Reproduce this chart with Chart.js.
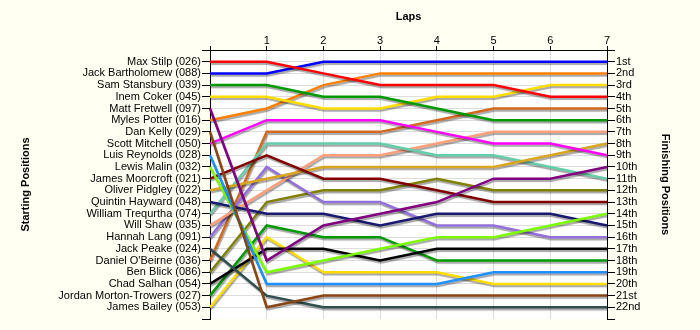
<!DOCTYPE html>
<html>
<head>
<meta charset="utf-8">
<title>Race Positions by Lap</title>
<script src="https://cdn.jsdelivr.net/npm/chart.js@4/dist/chart.umd.min.js"></script>
<style>
  html, body { margin: 0; padding: 0; background: #fffff2; }
  #wrap { width: 700px; height: 330px; }
</style>
</head>
<body>
<div id="wrap"><canvas id="raceChart" width="700" height="330"></canvas></div>
<script>
const laps = [0, 1, 2, 3, 4, 5, 6, 7];

// drivers in grid order (starting position 1..22)
const drivers = [
	"Max Stilp (026)", "Jack Bartholomew (088)", "Sam Stansbury (039)", "Inem Coker (045)",
	"Matt Fretwell (097)", "Myles Potter (016)", "Dan Kelly (029)", "Scott Mitchell (050)",
	"Luis Reynolds (028)", "Lewis Malin (032)", "James Moorcroft (021)", "Oliver Pidgley (022)",
	"Quintin Hayward (048)", "William Trequrtha (074)", "Will Shaw (035)", "Hannah Lang (091)",
	"Jack Peake (024)", "Daniel O'Beirne (036)", "Ben Blick (086)", "Chad Salhan (054)",
	"Jordan Morton-Trowers (027)", "James Bailey (053)"
];

const finishLabels = [
	"1st", "2nd", "3rd", "4th", "5th", "6th", "7th", "8th", "9th", "10th", "11th",
	"12th", "13th", "14th", "15th", "16th", "17th", "18th", "19th", "20th", "21st", "22nd"
];

// position after each lap (lap 0 = grid)
const maxStilp        = [1, 1, 2, 3, 3, 3, 4, 4];
const jackBartholomew = [2, 2, 1, 1, 1, 1, 1, 1];
const samStansbury    = [3, 3, 4, 4, 5, 6, 6, 6];
const inemCoker       = [4, 4, 5, 5, 4, 4, 3, 3];
const mattFretwell    = [5, 18, 15, 14, 13, 11, 11, 10];
const mylesPotter     = [6, 5, 3, 2, 2, 2, 2, 2];
const danKelly        = [7, 22, 21, 21, 21, 21, 21, 21];
const scottMitchell   = [8, 6, 6, 6, 7, 8, 8, 9];
const luisReynolds    = [9, 20, 20, 20, 20, 19, 19, 19];
const lewisMalin      = [10, 19, 18, 17, 16, 16, 15, 14];
const jamesMoorcroft  = [11, 9, 11, 11, 12, 13, 13, 13];
const oliverPidgley   = [12, 11, 10, 10, 10, 10, 9, 8];
const quintinHayward  = [13, 14, 14, 15, 14, 14, 14, 15];
const williamTrequrtha = [14, 8, 8, 8, 9, 9, 10, 11];
const willShaw        = [15, 12, 9, 9, 8, 7, 7, 7];
const hannahLang      = [16, 10, 13, 13, 15, 15, 16, 16];
const jackPeake       = [17, 21, 22, 22, 22, 22, 22, 22];
const danielOBeirne   = [18, 7, 7, 7, 6, 5, 5, 5];
const benBlick        = [19, 13, 12, 12, 11, 12, 12, 12];
const chadSalhan      = [20, 17, 17, 18, 17, 17, 17, 17];
const jordanMorton    = [21, 15, 16, 16, 18, 18, 18, 18];
const jamesBailey     = [22, 16, 19, 19, 19, 20, 20, 20];

const positions = [
	maxStilp, jackBartholomew, samStansbury, inemCoker, mattFretwell, mylesPotter,
	danKelly, scottMitchell, luisReynolds, lewisMalin, jamesMoorcroft, oliverPidgley,
	quintinHayward, williamTrequrtha, willShaw, hannahLang, jackPeake, danielOBeirne,
	benBlick, chadSalhan, jordanMorton, jamesBailey
];

const lineColors = [
	'#ff0000', '#0000ff', '#009a00', '#ffdd00', '#800080', '#ff8000',
	'#8b4513', '#ff00ff', '#1e90ff', '#7cfc00', '#800000', '#daa520',
	'#191970', '#66cdaa', '#ffa07a', '#9370db', '#2f4f4f', '#d2691e',
	'#808000', '#000000', '#009a00', '#ffdd00'
];

const FONT = "'Liberation Sans', Arial, sans-serif";
const GRID = '#dddddd';
const NONE = 'rgba(0,0,0,0)';

// white plot area on the cream page
const plotBackground = {
	id: 'plotBackground',
	beforeDraw(chart) {
		const { ctx, chartArea: a } = chart;
		ctx.save();
		ctx.fillStyle = '#fffff2';
		ctx.fillRect(0, 0, chart.width, chart.height);
		ctx.fillStyle = '#ffffff';
		ctx.fillRect(a.left, a.top, a.right - a.left, a.bottom - a.top);
		ctx.restore();
	}
};

// soft drop shadow under every line
const lineShadow = {
	id: 'lineShadow',
	beforeDatasetDraw(chart) {
		const ctx = chart.ctx;
		ctx.save();
		ctx.shadowColor = 'rgba(0,0,0,0.35)';
		ctx.shadowOffsetX = 1;
		ctx.shadowOffsetY = 2;
		ctx.shadowBlur = 1;
	},
	afterDatasetDraw(chart) {
		chart.ctx.restore();
	}
};

const datasets = drivers.map((name, i) => ({
	label: name,
	data: positions[i],
	borderColor: lineColors[i],
	backgroundColor: lineColors[i],
	borderWidth: 2.5,
	pointRadius: 0,
	pointHoverRadius: 0,
	tension: 0,
	fill: false
}));

const positionAxis = (side, labels, width, titleText, titlePad) => ({
	type: 'linear',
	position: side,
	reverse: true,
	min: 0,
	max: 23,
	afterFit: scale => { scale.width = width; },
	border: { display: true, color: '#000', width: 1 },
	grid: {
		drawOnChartArea: side === 'left',
		color: c => (c.tick && (c.tick.value === 0 || c.tick.value === 23)) ? NONE : GRID,
		tickColor: '#000',
		tickLength: 8
	},
	ticks: {
		stepSize: 1,
		autoSkip: false,
		padding: 1,
		color: '#000',
		font: { family: FONT, size: 11 },
		callback: v => labels[v - 1] || ''
	},
	title: {
		display: true,
		text: titleText,
		color: '#000',
		font: { family: FONT, size: 11, weight: 'bold' },
		padding: { top: titlePad, bottom: 0 }
	}
});

new Chart(document.getElementById('raceChart'), {
	type: 'line',
	data: { labels: laps, datasets: datasets },
	plugins: [plotBackground, lineShadow],
	options: {
		responsive: false,
		animation: false,
		events: [],
		layout: { padding: { left: 0, right: 0, top: 0, bottom: 11 } },
		plugins: {
			legend: { display: false },
			tooltip: { enabled: false }
		},
		scales: {
			x: {
				type: 'category',
				position: 'top',
				afterFit: scale => { scale.height = 50; },
				border: { display: true, color: '#000', width: 1 },
				grid: {
					color: c => (c.index === 0 || c.index === laps.length - 1) ? NONE : GRID,
					tickColor: '#000',
					tickLength: 4
				},
				ticks: {
					padding: 0,
					color: '#000',
					font: { family: FONT, size: 11, lineHeight: 1 },
					maxRotation: 0,
					callback: (v, i) => laps[i] === 0 ? '' : String(laps[i])
				},
				title: {
					display: true,
					text: 'Laps',
					color: '#000',
					font: { family: FONT, size: 11, weight: 'bold' },
					padding: { top: 10, bottom: 0 }
				}
			},
			y: positionAxis('left', drivers, 210, 'Starting Positions', 19),
			y2: positionAxis('right', finishLabels, 93, 'Finishing Positions', 28.5)
		}
	}
});
</script>
</body>
</html>
